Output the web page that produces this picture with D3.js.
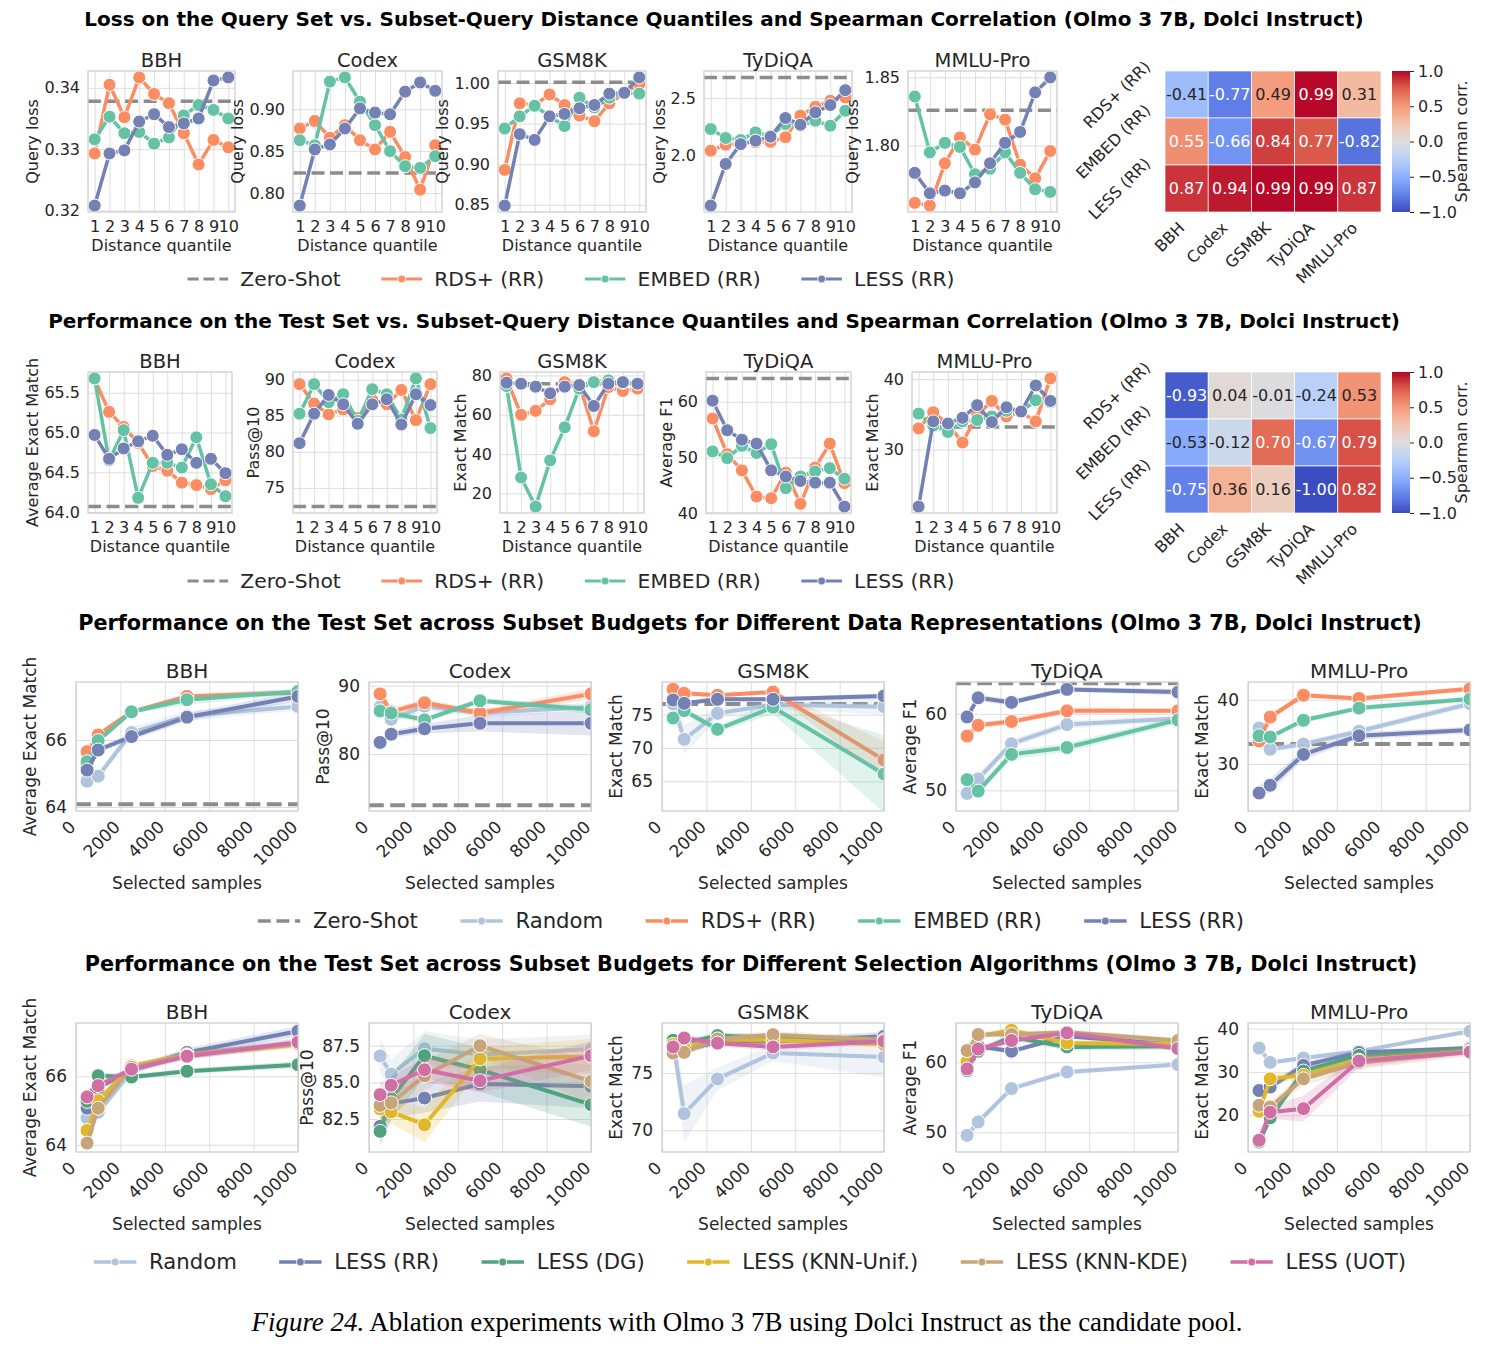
<!DOCTYPE html>
<html lang="en">
<head>
<meta charset="UTF-8">
<title>Figure 24 - Olmo 3 7B, Dolci Instruct ablations</title>
<script src="https://d3js.org/d3.v7.min.js"></script>
<style>
  body { margin: 0; background: #fff; }
  svg { font-family: "DejaVu Sans", sans-serif; }
</style>
</head>
<body>
<div id="chart"></div>
<script>
// ---------------- data ----------------
var tasks = ["BBH", "Codex", "GSM8K", "TyDiQA", "MMLU-Pro"];
var quantiles = [1, 2, 3, 4, 5, 6, 7, 8, 9, 10];
var budgets = [500, 1000, 2500, 5000, 10000];
var budgetTicks = [0, 2000, 4000, 6000, 8000, 10000];
var corrRows = ["RDS+ (RR)", "EMBED (RR)", "LESS (RR)"];
var corrTicks = [-1, -0.5, 0, 0.5, 1];

// row 1: query loss vs distance quantile
var lossZeroShot = [0.3378, 0.824, 1.001, 2.68, 1.826];
var lossRDS = [
  [0.3293, 0.3405, 0.3352, 0.3417, 0.3390, 0.3375, 0.3326, 0.3275, 0.3315, 0.3303],
  [0.877, 0.886, 0.866, 0.881, 0.863, 0.852, 0.873, 0.843, 0.804, 0.857],
  [0.893, 0.975, 0.973, 0.986, 0.973, 0.960, 0.953, 0.975, 0.988, 0.999],
  [2.043, 2.095, 2.107, 2.116, 2.12, 2.16, 2.347, 2.425, 2.477, 2.506],
  [1.758, 1.756, 1.787, 1.806, 1.797, 1.823, 1.819, 1.786, 1.776, 1.796]
];
var lossEMBED = [
  [0.3316, 0.3353, 0.3326, 0.3328, 0.3309, 0.3319, 0.3355, 0.3372, 0.3364, 0.3350],
  [0.863, 0.857, 0.933, 0.938, 0.909, 0.881, 0.850, 0.832, 0.830, 0.844],
  [0.944, 0.959, 0.972, 0.959, 0.947, 0.982, 0.970, 0.982, 0.988, 0.987],
  [2.231, 2.153, 2.136, 2.202, 2.173, 2.275, 2.26, 2.303, 2.26, 2.39],
  [1.836, 1.795, 1.802, 1.799, 1.779, 1.783, 1.795, 1.780, 1.768, 1.766]
];
var lossLESS = [
  [0.3208, 0.3293, 0.3298, 0.3345, 0.3357, 0.3336, 0.3342, 0.3350, 0.3412, 0.3417],
  [0.785, 0.852, 0.858, 0.877, 0.901, 0.896, 0.894, 0.921, 0.932, 0.922],
  [0.849, 0.937, 0.930, 0.959, 0.962, 0.969, 0.973, 0.987, 0.988, 1.007],
  [1.566, 1.928, 2.10, 2.13, 2.165, 2.327, 2.269, 2.376, 2.44, 2.569],
  [1.780, 1.765, 1.767, 1.765, 1.773, 1.787, 1.802, 1.810, 1.839, 1.850]
];
var lossTicks = [[0.32, 0.33, 0.34], [0.80, 0.85, 0.90], [0.85, 0.90, 0.95, 1.00], [2.0, 2.5], [1.80, 1.85]];
var lossDec = [2, 2, 2, 1, 2];
var lossCorr = [
  [-0.41, -0.77, 0.49, 0.99, 0.31],
  [0.55, -0.66, 0.84, 0.77, -0.82],
  [0.87, 0.94, 0.99, 0.99, 0.87]
];

// row 2: test performance vs distance quantile
var perfZeroShot = [64.07, 72.4, 75.8, 64.2, 33.2];
var perfRDS = [
  [65.67, 65.26, 65.07, 64.87, 64.58, 64.52, 64.37, 64.34, 64.29, 64.40],
  [89.4, 86.7, 85.2, 85.9, 84.7, 87.2, 86.6, 88.6, 84.4, 89.4],
  [78.5, 60.0, 62.0, 67.9, 76.6, 75.5, 51.6, 74.1, 72.1, 73.3],
  [57.0, 50.6, 47.7, 43.0, 42.7, 47.3, 41.7, 48.2, 52.5, 45.4],
  [33.0, 35.3, 33.6, 31.0, 34.9, 36.9, 34.7, 35.3, 34.0, 40.1]
];
var perfEMBED = [
  [65.68, 64.65, 65.03, 64.18, 64.62, 64.62, 64.56, 64.94, 64.35, 64.20],
  [85.3, 89.4, 86.9, 88.0, 84.3, 88.7, 88.0, 84.5, 90.2, 83.3],
  [74.6, 28.1, 13.3, 36.8, 53.6, 73.3, 76.6, 77.5, 76.3, 75.8],
  [51.1, 49.9, 52.1, 50.8, 52.4, 44.5, 46.6, 47.5, 48.1, 46.2],
  [35.1, 33.4, 32.5, 34.0, 34.2, 34.7, 35.5, 35.4, 37.0, 36.7]
];
var perfLESS = [
  [64.97, 64.67, 64.80, 64.89, 64.96, 64.72, 64.79, 64.62, 64.67, 64.49],
  [81.2, 85.3, 87.9, 86.6, 83.9, 86.6, 87.3, 83.8, 88.0, 86.5],
  [76.3, 75.8, 74.3, 70.9, 74.3, 75.1, 64.5, 75.8, 76.6, 75.8],
  [60.2, 54.9, 53.2, 52.5, 47.7, 46.6, 45.8, 45.5, 45.5, 41.2],
  [21.9, 34.0, 33.7, 34.5, 36.3, 33.9, 36.0, 35.4, 39.1, 36.9]
];
var perfTicks = [[64.0, 64.5, 65.0, 65.5], [75, 80, 85, 90], [20, 40, 60, 80], [40, 50, 60], [30, 40]];
var perfDec = [1, 0, 0, 0, 0];
var perfLabels = ["Average Exact Match", "Pass@10", "Exact Match", "Average F1", "Exact Match"];
var perfCorr = [
  [-0.93, 0.04, -0.01, -0.24, 0.53],
  [-0.53, -0.12, 0.70, -0.67, 0.79],
  [-0.75, 0.36, 0.16, -1.00, 0.82]
];

// row 3: budgets, data representations (mean and CI half width)
var repZeroShot = [64.08, 72.5, 76.6, 64.0, 33.1];
var repRandom = [
  [64.77, 64.92, 66.22, 66.72, 67.0],
  [86.9, 85.1, 87.0, 86.0, 86.9],
  [76.6, 71.3, 75.2, 76.5, 76.2],
  [49.6, 51.5, 56.1, 58.6, 59.4],
  [35.6, 32.3, 33.1, 35.1, 39.4]
];
var repRDS = [
  [65.65, 66.15, 66.84, 67.3, 67.42],
  [88.8, 86.2, 87.5, 86.0, 88.8],
  [78.8, 78.2, 77.9, 78.4, 68.2],
  [57.1, 58.5, 59.0, 60.4, 60.4],
  [33.6, 37.3, 40.7, 40.2, 41.7]
];
var repEMBED = [
  [65.35, 65.98, 66.84, 67.2, 67.45],
  [86.3, 86.0, 85.0, 87.8, 86.5],
  [74.5, 75.6, 72.8, 76.1, 66.1],
  [51.4, 49.9, 54.7, 55.6, 59.2],
  [34.4, 34.2, 36.8, 38.7, 40.1]
];
var repLESS = [
  [65.1, 65.7, 66.1, 66.68, 67.3],
  [81.7, 82.9, 83.7, 84.5, 84.5],
  [77.2, 76.7, 77.3, 77.3, 77.8],
  [59.6, 62.1, 61.5, 63.2, 62.85],
  [25.5, 26.7, 31.5, 34.4, 35.3]
];
var repRandomCI = [[0.12, 0.12, 0.15, 0.15, 0.12], [0.6, 0.6, 0.6, 0.6, 0.6], [1.0, 2.2, 0.8, 0.6, 1.2], [0.8, 0.7, 0.5, 0.5, 0.4], [0.6, 0.6, 0.5, 0.5, 0.6]];
var repRDSCI = [[0.1, 0.1, 0.06, 0.1, 0.08], [0.4, 0.6, 0.5, 0.5, 0.8], [0.3, 0.3, 0.3, 0.3, 2.8], [0.4, 0.4, 0.4, 0.4, 0.3], [0.5, 0.5, 0.4, 0.4, 0.4]];
var repEMBEDCI = [[0.1, 0.1, 0.06, 0.15, 0.08], [0.4, 0.5, 0.5, 0.4, 0.6], [0.5, 0.5, 0.5, 1.0, 5.8], [0.5, 0.5, 0.6, 0.6, 0.5], [0.4, 0.4, 0.4, 0.4, 0.4]];
var repLESSCI = [[0.1, 0.1, 0.1, 0.12, 0.15], [0.4, 0.5, 0.7, 1.2, 1.8], [0.3, 0.3, 0.3, 0.3, 0.4], [0.4, 0.4, 0.4, 0.3, 0.4], [1.2, 1.0, 0.8, 0.6, 0.5]];
var repYDomain = [[63.88, 67.73], [71.67, 90.54], [60.55, 79.9], [47.3, 64.17], [22.7, 42.76]];
var repTicks = [[64, 66], [80, 90], [65, 70, 75], [50, 60], [30, 40]];

// row 4: budgets, selection algorithms
var algRandom = [
  [64.78, 64.95, 66.15, 66.66, 66.98],
  [86.8, 85.57, 87.3, 86.9, 87.27],
  [77.67, 71.45, 74.48, 76.74, 76.4],
  [49.57, 51.48, 56.24, 58.62, 59.67],
  [35.5, 32.2, 33.2, 34.8, 39.4]
];
var algRR = [
  [65.07, 65.66, 66.2, 66.7, 67.32],
  [82.0, 83.55, 83.93, 84.89, 84.73],
  [77.56, 77.0, 77.7, 77.76, 78.2],
  [59.9, 62.29, 61.57, 63.71, 62.5],
  [25.7, 26.5, 31.5, 34.5, 35.5]
];
var algDG = [
  [65.27, 66.02, 65.98, 66.15, 66.34],
  [81.66, 83.89, 86.82, 85.86, 83.48],
  [77.85, 77.6, 78.26, 78.05, 77.85],
  [58.8, 61.57, 63.62, 62.19, 62.29],
  [13.8, 19.4, 30.2, 33.8, 35.2]
];
var algUnif = [
  [64.42, 65.29, 66.31, 66.63, 66.93],
  [83.2, 82.98, 82.11, 86.6, 86.77],
  [77.5, 77.2, 77.9, 77.9, 77.5],
  [60.1, 63.71, 64.57, 62.76, 62.6],
  [20.9, 28.4, 29.2, 32.7, 34.8]
];
var algKDE = [
  [64.05, 65.07, 66.27, 66.61, 66.96],
  [83.43, 83.6, 85.45, 87.5, 85.07],
  [76.74, 76.8, 77.97, 78.34, 77.9],
  [61.67, 63.95, 63.95, 64.29, 63.1],
  [22.3, 21.9, 28.4, 32.1, 34.6]
];
var algUOT = [
  [65.4, 65.73, 66.21, 66.59, 67.0],
  [84.16, 84.8, 85.86, 85.11, 86.82],
  [77.27, 78.05, 77.6, 77.27, 77.76],
  [59.05, 61.9, 63.1, 64.19, 61.95],
  [14.2, 20.7, 21.5, 32.5, 34.6]
];
var algRandomCI = [[0.15, 0.15, 0.1, 0.15, 0.15], [1.2, 1.0, 1.2, 1.0, 1.0], [1.0, 2.5, 1.0, 0.7, 1.8], [0.5, 0.5, 0.4, 0.4, 0.3], [0.6, 0.6, 0.5, 0.5, 0.6]];
var algRRCI = [[0.1, 0.1, 0.1, 0.12, 0.15], [1.0, 1.0, 1.0, 1.2, 1.5], [0.3, 0.3, 0.3, 0.3, 0.4], [0.4, 0.4, 0.4, 0.3, 0.4], [1.2, 1.0, 0.8, 0.6, 0.5]];
var algDGCI = [[0.1, 0.1, 0.08, 0.08, 0.1], [1.0, 1.5, 1.5, 1.5, 1.5], [0.3, 0.3, 0.3, 0.3, 0.3], [0.5, 0.5, 0.5, 0.5, 0.5], [0.8, 1.2, 1.0, 0.8, 0.5]];
var algUnifCI = [[0.1, 0.1, 0.08, 0.1, 0.1], [0.8, 0.8, 1.2, 0.8, 1.2], [0.3, 0.3, 0.3, 0.3, 0.3], [0.4, 0.4, 0.4, 0.4, 0.4], [1.0, 1.0, 1.0, 0.8, 0.6]];
var algKDECI = [[0.1, 0.1, 0.08, 0.1, 0.1], [0.6, 0.8, 1.0, 0.8, 1.5], [0.3, 0.3, 0.3, 0.3, 0.3], [0.4, 0.4, 0.4, 0.4, 0.4], [1.0, 1.0, 1.5, 1.5, 1.0]];
var algUOTCI = [[0.1, 0.1, 0.08, 0.1, 0.1], [0.8, 0.6, 0.8, 0.8, 1.0], [0.3, 0.3, 0.3, 0.3, 0.3], [0.4, 0.4, 0.4, 0.4, 0.4], [0.6, 1.5, 3.0, 1.5, 0.6]];
var algYDomain = [[63.79, 67.56], [80.25, 89.05], [68.1, 79.36], [47.2, 65.6], [11.5, 41.3]];
var algTicks = [[64, 66], [82.5, 85.0, 87.5], [70, 75], [50, 60], [20, 30, 40]];
var algDec = [0, 1, 0, 0, 0];

// ---------------- style ----------------
var TXT = "#262626", GRID = "#dedede", SPINE = "#cccccc", ZERO = "#8c8c8c";
var C = {
  rds: "#fc8d62", embed: "#66c2a5", less: "#7381b4", random: "#b0c4de",
  dg: "#50a27f", unif: "#e0b82a", kde: "#c8a578", uot: "#d06ea6"
};

var svg = d3.select("#chart").append("svg").attr("width", 1499).attr("height", 1352);
svg.append("rect").attr("width", 1499).attr("height", 1352).attr("fill", "#fff");
var defs = svg.append("defs");
var clipCount = 0;

function textWidth(str, fs, weight) {
  var t = svg.append("text").style("font-size", fs + "px").style("font-weight", weight || "normal").text(str);
  var w = t.node().getComputedTextLength();
  t.remove();
  return w;
}

// one line chart panel
function drawPanel(o, st) {
  var w = o.x1 - o.x0, h = o.y1 - o.y0;
  var g = svg.append("g");

  var ya = g.append("g").attr("transform", "translate(" + o.x0 + ",0)")
    .call(d3.axisLeft(o.y).tickValues(o.yTicks).tickFormat(o.yFmt).tickSize(-w).tickPadding(st.yPad));
  var xa = g.append("g").attr("transform", "translate(0," + o.y1 + ")")
    .call(d3.axisBottom(o.x).tickValues(o.xTicks).tickFormat(o.xFmt).tickSize(-h).tickPadding(9));
  [ya, xa].forEach(function(a) {
    a.attr("font-family", null).attr("font-size", null);
    a.select(".domain").remove();
    a.selectAll(".tick line").attr("stroke", GRID).attr("stroke-width", 1);
    a.selectAll(".tick text").attr("fill", TXT).style("font-size", st.tickFs + "px");
  });
  if (st.rotate) {
    xa.selectAll(".tick text").attr("y", 0).attr("dy", "0.35em").attr("text-anchor", "end")
      .attr("transform", "translate(-4,13) rotate(-45)");
  }

  var cid = "clip" + (clipCount++);
  defs.append("clipPath").attr("id", cid).append("rect")
    .attr("x", o.x0).attr("y", o.y0).attr("width", w).attr("height", h);
  var dg = g.append("g").attr("clip-path", "url(#" + cid + ")");

  if (o.zero != null) {
    dg.append("line").attr("x1", o.x0).attr("x2", o.x1)
      .attr("y1", o.y(o.zero)).attr("y2", o.y(o.zero))
      .attr("stroke", ZERO).attr("stroke-width", st.lw)
      .attr("stroke-dasharray", (3.7 * st.lw) + "," + (1.6 * st.lw));
  }

  o.series.forEach(function(s) {
    var pts = o.xs.map(function(xv, i) { return { x: xv, v: s.vals[i], c: s.ci ? s.ci[i] : 0 }; });
    if (s.ci) {
      dg.append("path").datum(pts)
        .attr("d", d3.area().x(function(d) { return o.x(d.x); })
          .y0(function(d) { return o.y(d.v - d.c); })
          .y1(function(d) { return o.y(d.v + d.c); }))
        .attr("fill", s.color).attr("fill-opacity", 0.2);
    }
    dg.append("path").datum(pts)
      .attr("d", d3.line().x(function(d) { return o.x(d.x); }).y(function(d) { return o.y(d.v); }))
      .attr("fill", "none").attr("stroke", s.color).attr("stroke-width", st.lw)
      .attr("stroke-linejoin", "round").attr("stroke-linecap", "round");
    dg.selectAll(null).data(pts).enter().append("circle")
      .attr("cx", function(d) { return o.x(d.x); })
      .attr("cy", function(d) { return o.y(d.v); })
      .attr("r", st.r).attr("fill", s.color).attr("stroke", "#fff").attr("stroke-width", 1);
  });

  g.append("rect").attr("x", o.x0).attr("y", o.y0).attr("width", w).attr("height", h)
    .attr("fill", "none").attr("stroke", SPINE).attr("stroke-width", 1.25);

  g.append("text").attr("x", (o.x0 + o.x1) / 2).attr("y", o.y0 - 4)
    .attr("text-anchor", "middle").attr("fill", TXT).style("font-size", st.titleFs + "px").text(o.title);

  g.append("text").attr("x", (o.x0 + o.x1) / 2).attr("y", o.y1 + st.xlabelDy)
    .attr("text-anchor", "middle").attr("fill", TXT).style("font-size", st.labelFs + "px").text(o.xlabel);

  var maxW = d3.max(ya.selectAll(".tick text").nodes(), function(n) { return n.getComputedTextLength(); });
  var bx = o.x0 - st.yPad - maxW - st.ylabGap;
  g.append("text").attr("transform", "translate(" + bx + "," + ((o.y0 + o.y1) / 2) + ") rotate(-90)")
    .attr("text-anchor", "middle").attr("fill", TXT).style("font-size", st.labelFs + "px").text(o.ylabel);
}

// correlation heatmap with colorbar
var coolwarm = d3.scaleLinear()
  .domain([-1, -0.75, -0.5, -0.25, 0, 0.25, 0.5, 0.75, 1])
  .range(["#3b4cc0", "#6282ea", "#8db0fe", "#b8d0f9", "#dddddd", "#f4c4ad", "#f49a7b", "#de604d", "#b40426"])
  .interpolate(d3.interpolateRgb);

var gradId = "cwgrad";
var grad = defs.append("linearGradient").attr("id", gradId)
  .attr("x1", 0).attr("y1", 1).attr("x2", 0).attr("y2", 0);
d3.range(0, 1.0001, 0.05).forEach(function(t) {
  grad.append("stop").attr("offset", t).attr("stop-color", coolwarm(-1 + 2 * t));
});

function heatmap(y0, y1, vals) {
  var x = d3.scaleBand().domain(tasks).range([1165, 1381]);
  var y = d3.scaleBand().domain(corrRows).range([y0, y1]);
  var g = svg.append("g");
  vals.forEach(function(row, ri) {
    row.forEach(function(v, ci) {
      var cx = x(tasks[ci]), cy = y(corrRows[ri]);
      g.append("rect").attr("x", cx).attr("y", cy)
        .attr("width", x.bandwidth()).attr("height", y.bandwidth())
        .attr("fill", coolwarm(v)).attr("stroke", "#fff").attr("stroke-width", 0.7);
      g.append("text").attr("x", cx + x.bandwidth() / 2).attr("y", cy + y.bandwidth() / 2)
        .attr("dy", "0.35em").attr("text-anchor", "middle")
        .attr("fill", Math.abs(v) >= 0.54 ? "#fff" : TXT)
        .style("font-size", "16px").text(v.toFixed(2));
    });
  });
  // row labels, rotated
  corrRows.forEach(function(lbl) {
    var L = textWidth(lbl, 16);
    var W = (L + 16) * Math.SQRT1_2;
    var cx = 1153 - W / 2, cy = y(lbl) + y.bandwidth() / 2;
    g.append("text").attr("transform", "translate(" + cx + "," + cy + ") rotate(-45)")
      .attr("dy", "0.35em").attr("text-anchor", "middle").attr("fill", TXT)
      .style("font-size", "16px").text(lbl);
  });
  // column labels, rotated
  tasks.forEach(function(t) {
    var cx = x(t) + x.bandwidth() / 2;
    g.append("text").attr("transform", "translate(" + (cx - 5) + "," + (y1 + 13) + ") rotate(-45)")
      .attr("dy", "0.35em").attr("text-anchor", "end").attr("fill", TXT)
      .style("font-size", "16px").text(t);
  });
  // colorbar
  g.append("rect").attr("x", 1392).attr("y", y0).attr("width", 18).attr("height", y1 - y0)
    .attr("fill", "url(#" + gradId + ")");
  var cs = d3.scaleLinear().domain([-1, 1]).range([y1, y0]);
  var ca = g.append("g").attr("transform", "translate(1410,0)")
    .call(d3.axisRight(cs).tickValues(corrTicks).tickFormat(d3.format(".1f")).tickSize(4).tickPadding(4));
  ca.attr("font-family", null).attr("font-size", null);
  ca.select(".domain").remove();
  ca.selectAll(".tick line").attr("stroke", TXT).attr("stroke-width", 1);
  ca.selectAll(".tick text").attr("fill", TXT).style("font-size", "16px");
  g.append("text").attr("transform", "translate(1467," + ((y0 + y1) / 2) + ") rotate(-90)")
    .attr("text-anchor", "middle").attr("fill", TXT).style("font-size", "16px").text("Spearman corr.");
}

function legend(cy, cx, items, fs, lw) {
  var g = svg.append("g");
  var hl = 2 * fs, pad = 0.6 * fs, col = 2 * fs;
  var widths = items.map(function(it) { return textWidth(it.label, fs); });
  var total = d3.sum(widths) + items.length * (hl + pad) + (items.length - 1) * col;
  var x = cx - total / 2;
  items.forEach(function(it, i) {
    g.append("line").attr("x1", x).attr("x2", x + hl).attr("y1", cy).attr("y2", cy)
      .attr("stroke", it.color).attr("stroke-width", lw)
      .attr("stroke-dasharray", it.dashed ? (3.7 * lw) + "," + (1.6 * lw) : null);
    if (!it.dashed) {
      g.append("circle").attr("cx", x + hl / 2).attr("cy", cy).attr("r", 4)
        .attr("fill", it.color).attr("stroke", "#fff").attr("stroke-width", 0.8);
    }
    g.append("text").attr("x", x + hl + pad).attr("y", cy).attr("dy", "0.35em")
      .attr("fill", TXT).style("font-size", fs + "px").text(it.label);
    x += hl + pad + widths[i] + col;
  });
}

function sectionTitle(txt, cx, y, fs) {
  svg.append("text").attr("x", cx).attr("y", y).attr("text-anchor", "middle")
    .attr("fill", "#000").style("font-size", fs + "px").style("font-weight", "bold").text(txt);
}

// ---------------- layout ----------------
var styleA = { titleFs: 19.5, labelFs: 16, tickFs: 16, yPad: 8, ylabGap: 6, lw: 3.5, r: 6.5, xlabelDy: 39, rotate: false };
var styleB = { titleFs: 20, labelFs: 17, tickFs: 17, yPad: 9, ylabGap: 9, lw: 4, r: 7, xlabelDy: 78, rotate: true };

var row1 = { top: 71, bottom: 212, lefts: [88, 293, 498, 704, 908], rights: [235, 442, 646, 852, 1057] };
var row2 = { top: 372, bottom: 513, lefts: [88, 293, 500, 706, 912], rights: [232, 437, 644, 851, 1057] };
var row3 = { top: 682, bottom: 811, lefts: [76, 369, 662, 956, 1248], width: 222 };
var row4 = { top: 1023, bottom: 1152, lefts: [76, 369, 662, 956, 1248], width: 222 };

function quantilePanel(row, i, series, zero, ticks, dec, ylabel) {
  var all = [zero];
  series.forEach(function(s) { all = all.concat(s.vals); });
  var ext = d3.extent(all), m = (ext[1] - ext[0]) * 0.05;
  drawPanel({
    x0: row.lefts[i], x1: row.rights[i], y0: row.top, y1: row.bottom,
    x: d3.scaleLinear().domain([0.55, 10.45]).range([row.lefts[i], row.rights[i]]),
    y: d3.scaleLinear().domain([ext[0] - m, ext[1] + m]).range([row.bottom, row.top]),
    xs: quantiles, xTicks: quantiles, xFmt: d3.format("d"),
    yTicks: ticks, yFmt: d3.format("." + dec + "f"),
    title: tasks[i], ylabel: ylabel, xlabel: "Distance quantile",
    zero: zero, series: series
  }, styleA);
}

function budgetPanel(row, i, series, zero, domain, ticks, dec, ylabel) {
  var x0 = row.lefts[i], x1 = row.lefts[i] + row.width;
  drawPanel({
    x0: x0, x1: x1, y0: row.top, y1: row.bottom,
    x: d3.scaleLinear().domain([0, 10000]).range([x0, x1]),
    y: d3.scaleLinear().domain(domain).range([row.bottom, row.top]),
    xs: budgets, xTicks: budgetTicks, xFmt: d3.format("d"),
    yTicks: ticks, yFmt: d3.format("." + dec + "f"),
    title: tasks[i], ylabel: ylabel, xlabel: "Selected samples",
    zero: zero, series: series
  }, styleB);
}

// ---- section 1
sectionTitle("Loss on the Query Set vs. Subset-Query Distance Quantiles and Spearman Correlation (Olmo 3 7B, Dolci Instruct)", 724, 26, 20);
tasks.forEach(function(t, i) {
  quantilePanel(row1, i, [
    { vals: lossRDS[i], color: C.rds },
    { vals: lossEMBED[i], color: C.embed },
    { vals: lossLESS[i], color: C.less }
  ], lossZeroShot[i], lossTicks[i], lossDec[i], "Query loss");
});
heatmap(row1.top, row1.bottom, lossCorr);
var qLegend = [
  { label: "Zero-Shot", color: ZERO, dashed: true },
  { label: "RDS+ (RR)", color: C.rds },
  { label: "EMBED (RR)", color: C.embed },
  { label: "LESS (RR)", color: C.less }
];
legend(279, 571, qLegend, 20.3, 3);

// ---- section 2
sectionTitle("Performance on the Test Set vs. Subset-Query Distance Quantiles and Spearman Correlation (Olmo 3 7B, Dolci Instruct)", 724, 328, 20);
tasks.forEach(function(t, i) {
  quantilePanel(row2, i, [
    { vals: perfRDS[i], color: C.rds },
    { vals: perfEMBED[i], color: C.embed },
    { vals: perfLESS[i], color: C.less }
  ], perfZeroShot[i], perfTicks[i], perfDec[i], perfLabels[i]);
});
heatmap(row2.top, row2.bottom, perfCorr);
legend(581, 571, qLegend, 20.3, 3);

// ---- section 3
sectionTitle("Performance on the Test Set across Subset Budgets for Different Data Representations (Olmo 3 7B, Dolci Instruct)", 750, 630, 20.8);
tasks.forEach(function(t, i) {
  budgetPanel(row3, i, [
    { vals: repRandom[i], ci: repRandomCI[i], color: C.random },
    { vals: repRDS[i], ci: repRDSCI[i], color: C.rds },
    { vals: repEMBED[i], ci: repEMBEDCI[i], color: C.embed },
    { vals: repLESS[i], ci: repLESSCI[i], color: C.less }
  ], repZeroShot[i], repYDomain[i], repTicks[i], 0, perfLabels[i]);
});
legend(921, 751, [
  { label: "Zero-Shot", color: ZERO, dashed: true },
  { label: "Random", color: C.random },
  { label: "RDS+ (RR)", color: C.rds },
  { label: "EMBED (RR)", color: C.embed },
  { label: "LESS (RR)", color: C.less }
], 21.2, 3.5);

// ---- section 4
sectionTitle("Performance on the Test Set across Subset Budgets for Different Selection Algorithms (Olmo 3 7B, Dolci Instruct)", 751, 971, 20.8);
tasks.forEach(function(t, i) {
  budgetPanel(row4, i, [
    { vals: algRandom[i], ci: algRandomCI[i], color: C.random },
    { vals: algRR[i], ci: algRRCI[i], color: C.less },
    { vals: algDG[i], ci: algDGCI[i], color: C.dg },
    { vals: algUnif[i], ci: algUnifCI[i], color: C.unif },
    { vals: algKDE[i], ci: algKDECI[i], color: C.kde },
    { vals: algUOT[i], ci: algUOTCI[i], color: C.uot }
  ], null, algYDomain[i], algTicks[i], algDec[i], perfLabels[i]);
});
legend(1262, 750, [
  { label: "Random", color: C.random },
  { label: "LESS (RR)", color: C.less },
  { label: "LESS (DG)", color: C.dg },
  { label: "LESS (KNN-Unif.)", color: C.unif },
  { label: "LESS (KNN-KDE)", color: C.kde },
  { label: "LESS (UOT)", color: C.uot }
], 21.2, 3.5);

// ---- caption
var cap = svg.append("text").attr("x", 747).attr("y", 1331).attr("text-anchor", "middle")
  .attr("fill", "#000").style("font-family", "'Liberation Serif', serif").style("font-size", "26.9px");
cap.append("tspan").style("font-style", "italic").text("Figure 24.");
cap.append("tspan").text(" Ablation experiments with Olmo 3 7B using Dolci Instruct as the candidate pool.");
</script>
</body>
</html>
